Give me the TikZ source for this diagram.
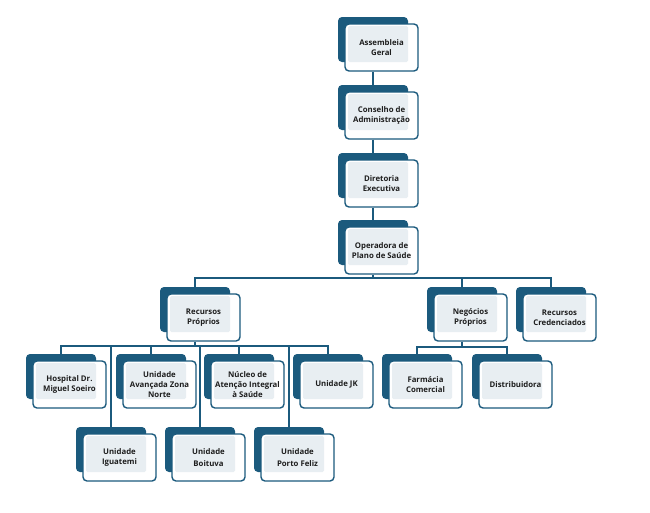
\documentclass[tikz,border=0pt]{standalone}
\usepackage{fontspec}
\setmainfont{Open Sans}
\definecolor{dk}{HTML}{1B5A7D}
\definecolor{lt}{HTML}{E8EEF2}
\definecolor{tx}{HTML}{1E1E1E}
\tikzset{
 backbox/.style={fill=dk, rounded corners=4pt, minimum width=70pt, minimum height=45pt, inner sep=0pt},
 frontbox/.style={fill=white, draw=dk, line width=1.4pt, rounded corners=4pt, minimum width=73pt, minimum height=47pt, inner sep=0pt},
 innerbox/.style={fill=lt, rounded corners=1.5pt, minimum width=60pt, minimum height=36pt, inner sep=0pt},
 label/.style={inner sep=0pt, align=center, font=\bfseries\fontsize{7.8}{9.8}\selectfont, text=tx},
 conn/.style={draw=dk, line width=1.4pt}
}
\newcommand\orgbox[4]{%
 \node[backbox] (#1b) at (#2+35,#3+22.5) {};
 \node[frontbox] (#1f) at (#2+43.5,#3+30.5) {};
 \node[innerbox] (#1i) at (#2+40,#3+27) {};
 \node[label] (#1) at (#2+43.5,#3+30.5) {#4};
}
\begin{document}
\begin{tikzpicture}[x=1pt,y=-1pt]
\useasboundingbox[fill=white] (0,0) rectangle (650,512);
\orgbox{A}{338}{17}{Assembleia\\Geral}
\orgbox{C}{338}{85}{Conselho de\\Administração}
\orgbox{D}{338}{153}{Diretoria\\Executiva}
\orgbox{O}{338}{220}{Operadora de\\Plano de Saúde}
\orgbox{RP}{160}{287}{Recursos\\Próprios}
\orgbox{NP}{427}{287}{Negócios\\Próprios}
\orgbox{RC}{516}{287}{Recursos\\Credenciados}
\orgbox{H}{26}{354}{Hospital Dr.\\Miguel Soeiro}
\orgbox{AV}{116}{354}{Unidade\\Avançada Zona\\Norte}
\orgbox{NU}{204}{354}{Núcleo de\\Atenção Integral\\à Saúde}
\orgbox{JK}{293}{354}{Unidade JK}
\orgbox{FC}{382}{354}{Farmácia\\Comercial}
\orgbox{DI}{472}{354}{Distribuidora}
\orgbox{IG}{76}{427}{Unidade\\Iguatemi}
\orgbox{BO}{165}{427}{Unidade\\[3pt]Boituva}
\orgbox{PF}{254}{427}{Unidade\\[3pt]Porto Feliz}
\coordinate (busO) at (0,278);
\coordinate (busR) at (0,346);
\coordinate (busN) at (0,347);
\draw[conn] (Ab.center |- Af.south) -- (Cb.north);
\draw[conn] (Cb.center |- Cf.south) -- (Db.north);
\draw[conn] (Db.center |- Df.south) -- (Ob.north);
\draw[conn] (Ob.center |- Of.south) -- (Ob.center |- busO);
\draw[conn] (RPb.north) -- (RPb.north |- busO) -- (RCb.north |- busO) -- (RCb.north);
\draw[conn] (NPb.north) -- (NPb.north |- busO);
\draw[conn] (RPb.center |- RPf.south) -- (RPb.center |- busR);
\draw[conn] (Hb.north) -- (Hb.north |- busR) -- (JKb.north |- busR) -- (JKb.north);
\draw[conn] (AVb.north) -- (AVb.north |- busR);
\draw[conn] (NUb.north) -- (NUb.north |- busR);
\draw[conn] (IGb.north) -- (IGb.north |- busR);
\draw[conn] (BOb.north) -- (BOb.north |- busR);
\draw[conn] (PFb.north) -- (PFb.north |- busR);
\draw[conn] (NPb.center |- NPf.south) -- (NPb.center |- busN);
\draw[conn] (FCb.north) -- (FCb.north |- busN) -- (DIb.north |- busN) -- (DIb.north);
\end{tikzpicture}
\end{document}
